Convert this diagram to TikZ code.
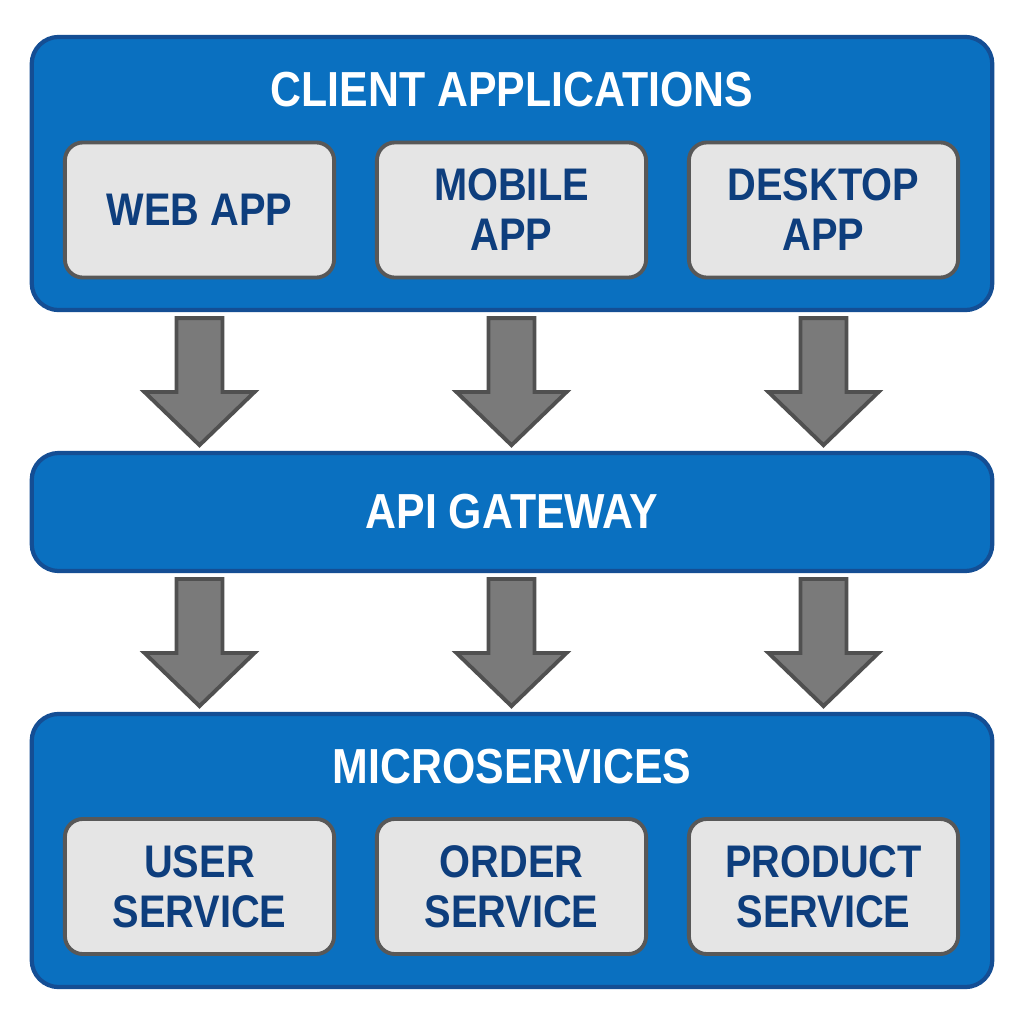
\documentclass[tikz,border=0pt]{standalone}
\usepackage{fontspec}
\setmainfont{Liberation Sans}[FakeStretch=0.87]
\usepackage{tikz}
\usetikzlibrary{shapes.arrows}

\definecolor{layerblue}{RGB}{10,112,192}
\definecolor{layeredge}{RGB}{20,78,148}
\definecolor{boxgray}{RGB}{229,229,229}
\definecolor{boxedge}{RGB}{88,88,88}
\definecolor{textblue}{RGB}{14,62,125}
\definecolor{arrowgray}{RGB}{122,122,122}
\definecolor{arrowedge}{RGB}{80,80,80}

\begin{document}
\begin{tikzpicture}[x=0.01cm, y=-0.01cm,
    layer/.style={rectangle, rounded corners=0.27cm, draw=layeredge, line width=1.2pt, fill=layerblue, minimum width=9.6cm},
    title/.style={text=white, font=\bfseries\fontsize{14pt}{16pt}\selectfont},
    app/.style={rectangle, rounded corners=0.18cm, draw=boxedge, line width=1.1pt, fill=boxgray, minimum width=2.69cm, minimum height=1.35cm, align=center, text=textblue, font=\bfseries\fontsize{13pt}{14.2pt}\selectfont},
    flow/.style={single arrow, shape border rotate=270, draw=arrowedge, line width=1.1pt, fill=arrowgray, minimum height=1.27cm, minimum width=1.1cm, inner sep=0.21cm, single arrow head extend=0.32cm, single arrow tip angle=92, yshift=0.11cm}]
    \fill[white] (0,0) rectangle (1024,1024);
    \useasboundingbox (0,0) rectangle (1024,1024);

    % Layers
    \node[layer, minimum height=2.73cm] (CLIENT) at (512,173.5) {};
    \node[title] (CLIENTTITLE) at (512,90) {CLIENT APPLICATIONS};
    \node[layer, title, minimum height=1.18cm] (GATEWAY) at (512,512) {API GATEWAY};
    \node[layer, minimum height=2.73cm] (MICRO) at (512,850.5) {};
    \node[title] (MICROTITLE) at (512,767) {MICROSERVICES};

    % Clients
    \node[app] (WEB) at (199.5,210) {WEB APP};
    \node[app] (MOBILE) at (511.5,210) {MOBILE\\APP};
    \node[app] (DESKTOP) at (823.5,210) {DESKTOP\\APP};

    % Services
    \node[app] (USER) at (199.5,886.5) {USER\\SERVICE};
    \node[app] (ORDER) at (511.5,886.5) {ORDER\\SERVICE};
    \node[app] (PRODUCT) at (823.5,886.5) {PRODUCT\\SERVICE};

    % Flows
    \path (WEB.south |- CLIENT.south) -- node[flow] {} (WEB.south |- GATEWAY.north);
    \path (MOBILE.south |- CLIENT.south) -- node[flow] {} (MOBILE.south |- GATEWAY.north);
    \path (DESKTOP.south |- CLIENT.south) -- node[flow] {} (DESKTOP.south |- GATEWAY.north);
    \path (USER.north |- GATEWAY.south) -- node[flow] {} (USER.north |- MICRO.north);
    \path (ORDER.north |- GATEWAY.south) -- node[flow] {} (ORDER.north |- MICRO.north);
    \path (PRODUCT.north |- GATEWAY.south) -- node[flow] {} (PRODUCT.north |- MICRO.north);
\end{tikzpicture}
\end{document}
